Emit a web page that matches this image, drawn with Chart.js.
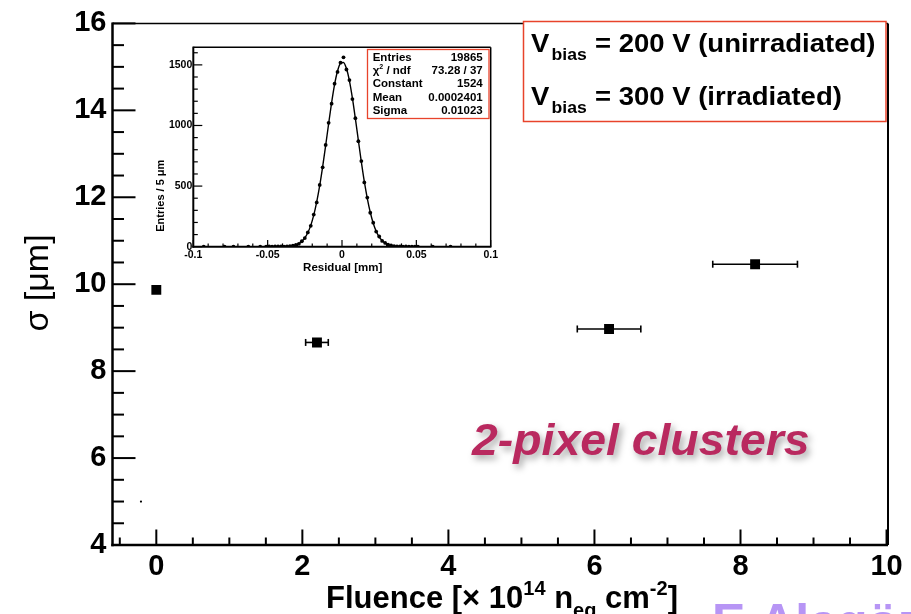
<!DOCTYPE html>
<html>
<head>
<meta charset="utf-8">
<script src="https://cdn.jsdelivr.net/npm/chart.js@4.4.0/dist/chart.umd.min.js"></script>
<style>
  html, body { margin: 0; padding: 0; background: #fff; }
  #wrap { position: relative; width: 911px; height: 614px; overflow: hidden; }
  #main { position: absolute; left: 0; top: 0; }
  #inset { position: absolute; left: 150px; top: 40px; }
</style>
</head>
<body>
<div id="wrap">
  <canvas id="main" width="911" height="614"></canvas>
  <canvas id="inset" width="355" height="240"></canvas>
</div>
<script>
// main plot: resolution vs fluence
const fluence = [0, 2.2, 6.2, 8.2];
const fluenceErr = [0, 0.155, 0.435, 0.58];
const resolution = [9.87, 8.66, 8.97, 10.46];
const strayPoint = [{ x: -0.21, y: 5.0 }];
const xTicks = [0, 2, 4, 6, 8, 10];
const yTicks = [4, 6, 8, 10, 12, 14, 16];
const legendText = ["= 200 V (unirradiated)", "= 300 V (irradiated)"];

// inset: residual distribution + gaussian fit
const residualBins = [-0.093, -0.079, -0.073, -0.063, -0.055, -0.051, -0.049, -0.047, -0.045, -0.043, -0.041,
  -0.039, -0.037, -0.035, -0.033, -0.031, -0.029, -0.027, -0.025, -0.023, -0.021,
  -0.019, -0.017, -0.015, -0.013, -0.011, -0.009, -0.007, -0.005, -0.003, -0.001,
  0.001, 0.003, 0.005, 0.007, 0.009, 0.011, 0.013, 0.015, 0.017, 0.019,
  0.021, 0.023, 0.025, 0.027, 0.029, 0.031, 0.033, 0.035, 0.037, 0.039,
  0.041, 0.043, 0.045, 0.047, 0.049, 0.051, 0.061, 0.073];
const residualCounts = [1, 1, 1, 1, 1, 1, 2, 1, 2, 2, 3,
  1, 3, 4, 9, 15, 24, 45, 71, 118, 172,
  265, 365, 510, 655, 840, 1022, 1180, 1345, 1442, 1518,
  1562, 1462, 1375, 1218, 1060, 870, 706, 530, 405, 280,
  198, 125, 84, 48, 31, 16, 10, 5, 3, 2,
  1, 2, 1, 1, 1, 1, 1, 1];
const fitX = [-0.1, -0.045, -0.041,
  -0.039, -0.037, -0.035, -0.033, -0.031, -0.029, -0.027, -0.025, -0.023, -0.021,
  -0.019, -0.017, -0.015, -0.013, -0.011, -0.009, -0.007, -0.005, -0.003, -0.001,
  0.001, 0.003, 0.005, 0.007, 0.009, 0.011, 0.013, 0.015, 0.017, 0.019,
  0.021, 0.023, 0.025, 0.027, 0.029, 0.031, 0.033, 0.035, 0.037, 0.039,
  0.041, 0.045, 0.1];
const fitY = [0, 0, 0,
  1, 2, 4, 8, 14, 26, 44, 73, 115, 176,
  260, 369, 503, 660, 834, 1014, 1187, 1337, 1449, 1513,
  1520, 1470, 1368, 1225, 1056, 877, 700, 538, 399, 284,
  194, 128, 81, 50, 29, 17, 9, 4, 2, 1,
  0, 0, 0];
const statsLabels = ["Entries", "χ", "Constant", "Mean", "Sigma"];
const statsValues = ["19865", "73.28 / 37", "1524", "0.0002401", "0.01023"];
const insetXTicks = [-0.1, -0.05, 0, 0.05, 0.1];
const insetYTicks = [0, 500, 1000, 1500];

const SANS = '"Liberation Sans", Arial, Helvetica, sans-serif';

function line(ctx, x0, y0, x1, y1) {
  ctx.beginPath(); ctx.moveTo(x0, y0); ctx.lineTo(x1, y1); ctx.stroke();
}

// text with super/subscripts: parts = [[text, 'n'|'sup'|'sub'], ...]
function richText(ctx, parts, x, y, o) {
  const size = o.size, sx = o.sx || 1;
  const fam = o.family || SANS;
  const fontFor = k => `${o.italic ? 'italic ' : ''}${o.weight || 'bold'} ${k === 'n' ? size : Math.round(size * 0.65)}px ${fam}`;
  ctx.save();
  let w = 0;
  parts.forEach(([t, k]) => { ctx.font = fontFor(k); w += ctx.measureText(t).width; });
  ctx.translate(x, y);
  ctx.scale(sx, 1);
  let cx = o.align === 'center' ? -w / 2 : o.align === 'right' ? -w : 0;
  ctx.fillStyle = o.color || '#000';
  ctx.textAlign = 'left';
  ctx.textBaseline = 'alphabetic';
  parts.forEach(([t, k]) => {
    ctx.font = fontFor(k);
    const dy = k === 'sup' ? -size * 0.42 : k === 'sub' ? size * 0.3 : 0;
    ctx.fillText(t, cx, dy);
    cx += ctx.measureText(t).width;
  });
  ctx.restore();
  return w * sx;
}

const mainDeco = {
  id: 'mainDeco',
  beforeDatasetsDraw(chart) {
    const { ctx, scales: { x, y } } = chart;
    ctx.save();
    ctx.strokeStyle = '#000';
    ctx.lineWidth = 1.6;
    fluence.forEach((f, i) => {
      const e = fluenceErr[i];
      if (!e) return;
      const x0 = x.getPixelForValue(f - e), x1 = x.getPixelForValue(f + e);
      const py = y.getPixelForValue(resolution[i]);
      line(ctx, x0, py, x1, py);
      line(ctx, x0, py - 3.5, x0, py + 3.5);
      line(ctx, x1, py - 3.5, x1, py + 3.5);
    });
    ctx.restore();
  },
  afterDraw(chart) {
    const { ctx, chartArea: ca, scales: { x, y } } = chart;
    ctx.save();
    ctx.strokeStyle = '#000';
    // frame
    ctx.lineWidth = 1.5;
    line(ctx, ca.left, ca.top, ca.right, ca.top);
    ctx.lineWidth = 2;
    line(ctx, ca.right, ca.top, ca.right, ca.bottom);
    ctx.lineWidth = 2.5;
    line(ctx, ca.left, ca.top - 1, ca.left, ca.bottom + 1.2);
    line(ctx, ca.left - 1.2, ca.bottom, ca.right, ca.bottom);
    // ticks (inside)
    ctx.lineWidth = 2;
    for (let k = 8; k <= 32; k++) {
      const py = y.getPixelForValue(k / 2);
      line(ctx, ca.left, py, ca.left + (k % 4 === 0 ? 23 : 11.5), py);
    }
    for (let k = -1; k <= 20; k++) {
      const px = x.getPixelForValue(k / 2);
      line(ctx, px, ca.bottom, px, ca.bottom - (k % 4 === 0 ? 15.5 : 7.5));
    }
    ctx.restore();

    // legend box
    ctx.save();
    ctx.fillStyle = '#fff';
    ctx.fillRect(523.5, 21.5, 362.5, 100);
    ctx.strokeStyle = '#e8432b';
    ctx.lineWidth = 1.5;
    ctx.strokeRect(523.5, 21.5, 362.5, 100);
    ctx.restore();
    legendText.forEach((t, i) => {
      const b = 52 + 53 * i;
      richText(ctx, [['V', 'n']], 531, b, { size: 25, sx: 1.1 });
      richText(ctx, [['bias', 'n']], 551.5, b + 8, { size: 16, sx: 1.1 });
      richText(ctx, [[t, 'n']], 595, b, { size: 25, sx: 1.1 });
    });

    // 2-pixel clusters label with soft shadow
    ctx.save();
    ctx.shadowColor = 'rgba(0,0,0,0.35)';
    ctx.shadowBlur = 7;
    ctx.shadowOffsetX = 3;
    ctx.shadowOffsetY = 4;
    richText(ctx, [['2-pixel clusters', 'n']], 472, 455, { size: 45, italic: true, color: '#b9295f', sx: 1.03 });
    ctx.restore();

    // axis titles
    richText(ctx, [['Fluence [', 'n'], ['×', 'n'], [' 10', 'n'], ['14', 'sup'], [' n', 'n'], ['eq', 'sub'], [' cm', 'n'], ['-2', 'sup'], [']', 'n']],
      502, 608, { size: 31, align: 'center' });
    ctx.save();
    ctx.translate(39, 283);
    ctx.rotate(-Math.PI / 2);
    ctx.font = `34px ${SANS}`;
    ctx.fillStyle = '#000';
    ctx.textAlign = 'center';
    ctx.textBaseline = 'middle';
    ctx.fillText('σ [μm]', 0, 0);
    ctx.restore();

    // author tag, cut by the page edge
    richText(ctx, [['E.Alagöz', 'n']], 712, 639, { size: 50, color: '#b795f5' });
  }
};

new Chart(document.getElementById('main'), {
  type: 'scatter',
  data: {
    datasets: [
      {
        data: fluence.map((f, i) => ({ x: f, y: resolution[i] })),
        pointStyle: 'rect', pointRadius: 7, backgroundColor: '#000', borderWidth: 0
      },
      { data: strayPoint, pointRadius: 1.1, backgroundColor: '#000', borderWidth: 0 }
    ]
  },
  options: {
    responsive: false, animation: false, devicePixelRatio: 1,
    layout: { padding: { left: 0, top: 19, right: 23, bottom: 0 } },
    plugins: { legend: { display: false }, tooltip: { enabled: false } },
    scales: {
      x: {
        type: 'linear', min: -0.6, max: 10.02,
        grid: { display: false, drawTicks: false }, border: { display: false },
        afterBuildTicks: s => { s.ticks = xTicks.map(v => ({ value: v })); },
        afterFit: s => { s.height = 614 - 545; },
        ticks: { font: { family: SANS, weight: 'bold', size: 29 }, color: '#000', padding: 5, autoSkip: false, maxRotation: 0 }
      },
      y: {
        type: 'linear', min: 4, max: 16,
        grid: { display: false, drawTicks: false }, border: { display: false },
        afterBuildTicks: s => { s.ticks = yTicks.map(v => ({ value: v })); },
        afterFit: s => { s.width = 112.5; },
        ticks: { font: { family: SANS, weight: 'bold', size: 29 }, color: '#000', padding: 6, autoSkip: false }
      }
    }
  },
  plugins: [mainDeco]
});

const insetDeco = {
  id: 'insetDeco',
  afterDraw(chart) {
    const { ctx, chartArea: ca, scales: { x, y } } = chart;
    ctx.save();
    ctx.strokeStyle = '#000';
    ctx.lineWidth = 1.5;
    line(ctx, ca.left, ca.top, ca.right, ca.top);
    line(ctx, ca.right, ca.top, ca.right, ca.bottom);
    ctx.lineWidth = 2;
    line(ctx, ca.left, ca.top - 0.7, ca.left, ca.bottom + 1);
    line(ctx, ca.left - 1, ca.bottom, ca.right + 0.7, ca.bottom);
    ctx.lineWidth = 1.2;
    for (let k = 0; k <= 16; k++) {
      const py = y.getPixelForValue(k * 100);
      line(ctx, ca.left, py, ca.left + (k % 5 === 0 ? 9 : 4.5), py);
    }
    for (let k = -10; k <= 10; k++) {
      const px = x.getPixelForValue(k / 100);
      line(ctx, px, ca.bottom, px, ca.bottom - (k % 5 === 0 ? 6.7 : 3.3));
    }
    ctx.restore();

    // stats box
    ctx.save();
    ctx.fillStyle = '#fff';
    ctx.fillRect(217.5, 9.5, 121.5, 69);
    ctx.strokeStyle = '#e8432b';
    ctx.lineWidth = 1.3;
    ctx.strokeRect(217.5, 9.5, 121.5, 69);
    ctx.restore();
    statsLabels.forEach((lab, i) => {
      const b = 20.7 + 13.3 * i;
      const parts = i === 1 ? [[lab, 'n'], ['2', 'sup'], [' / ndf', 'n']] : [[lab, 'n']];
      richText(ctx, parts, 222.7, b, { size: 11.5 });
      richText(ctx, [[statsValues[i], 'n']], 332.7, b, { size: 11.5, align: 'right' });
    });

    // titles
    richText(ctx, [['Residual [mm]', 'n']], 192.7, 230.5, { size: 11.5, align: 'center' });
    ctx.save();
    ctx.translate(14, 155.7);
    ctx.rotate(-Math.PI / 2);
    richText(ctx, [['Entries / 5 μm', 'n']], 0, 0, { size: 11, align: 'center' });
    ctx.restore();
  }
};

new Chart(document.getElementById('inset'), {
  type: 'scatter',
  data: {
    datasets: [
      {
        data: residualBins.map((b, i) => ({ x: b, y: residualCounts[i] })),
        pointStyle: 'circle', pointRadius: 1.9, backgroundColor: '#000', borderWidth: 0
      },
      {
        data: fitX.map((b, i) => ({ x: b, y: fitY[i] })),
        showLine: true, pointRadius: 0, borderColor: '#000', borderWidth: 1.4,
        cubicInterpolationMode: 'monotone'
      }
    ]
  },
  options: {
    responsive: false, animation: false, devicePixelRatio: 1,
    layout: { padding: { left: 0, top: 6.7, right: 14.3, bottom: 0 } },
    plugins: { legend: { display: false }, tooltip: { enabled: false } },
    scales: {
      x: {
        type: 'linear', min: -0.1, max: 0.1,
        grid: { display: false, drawTicks: false }, border: { display: false },
        afterBuildTicks: s => { s.ticks = insetXTicks.map(v => ({ value: v })); },
        afterFit: s => { s.height = 33.3; },
        ticks: { font: { family: SANS, weight: 'bold', size: 10.5 }, color: '#000', padding: 2, autoSkip: false, maxRotation: 0, callback: v => String(v) }
      },
      y: {
        type: 'linear', min: 0, max: 1645,
        grid: { display: false, drawTicks: false }, border: { display: false },
        afterBuildTicks: s => { s.ticks = insetYTicks.map(v => ({ value: v })); },
        afterFit: s => { s.width = 43.3; },
        ticks: { font: { family: SANS, weight: 'bold', size: 10.5 }, color: '#000', padding: 1, autoSkip: false, callback: v => String(v) }
      }
    }
  },
  plugins: [insetDeco]
});
</script>
</body>
</html>
